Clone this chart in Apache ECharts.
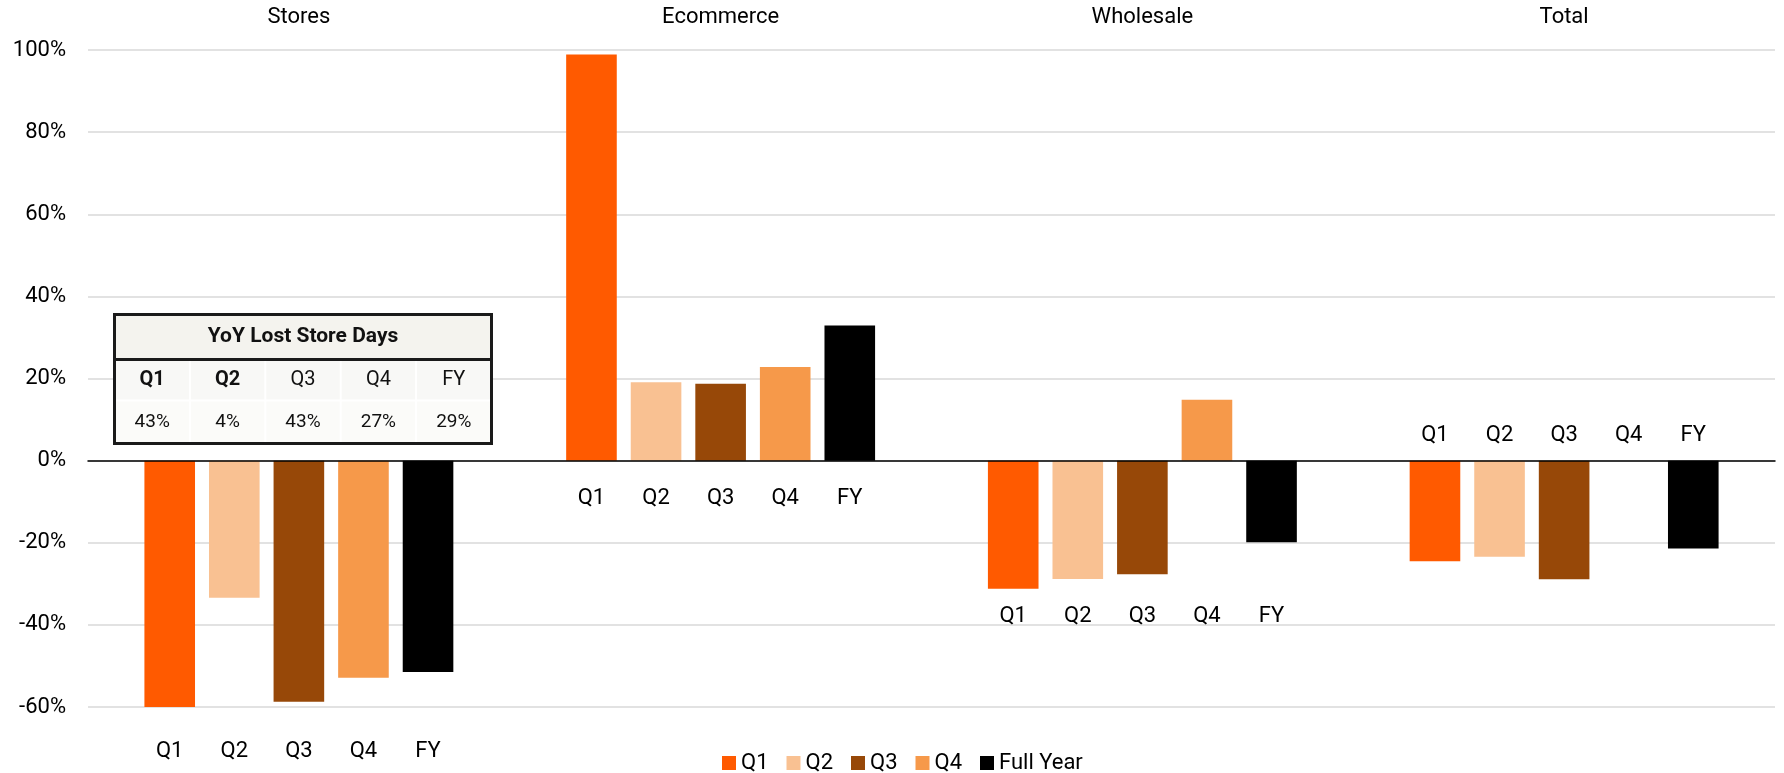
<!DOCTYPE html>
<html>
<head>
<meta charset="utf-8">
<title>Sales growth by channel</title>
<script src="https://cdn.jsdelivr.net/npm/echarts@6/dist/echarts.min.js"></script>
<style>
  html, body { margin: 0; padding: 0; background: #ffffff; }
  #chart { width: 1784px; height: 773px; }
</style>
</head>
<body>
<div id="chart"></div>
<script>
// Channels and periods
const channels = ['Stores', 'Ecommerce', 'Wholesale', 'Total'];
const periodLabels = ['Q1', 'Q2', 'Q3', 'Q4', 'FY'];
const seriesNames = ['Q1', 'Q2', 'Q3', 'Q4', 'Full Year'];

// YoY change (%) per channel, one array per period
const q1Values = [-60.0, 98.9, -31.2, -24.5];
const q2Values = [-33.4, 19.1, -28.8, -23.4];
const q3Values = [-58.7, 18.7, -27.7, -28.9];
const q4Values = [-52.9, 22.8, 14.8, null];
const fyValues = [-51.5, 32.9, -19.9, -21.4];

// Value axis ticks
const yMin = -60;
const yMax = 100;
const yStep = 20;

// Inset table: YoY lost store days
const lostDaysTitle = 'YoY Lost Store Days';
const lostDaysHeaders = ['Q1', 'Q2', 'Q3', 'Q4', 'FY'];
const lostDaysValues = ['43%', '4%', '43%', '27%', '29%'];

// ---- presentation ----
const FONT = 'Roboto, "Liberation Sans", Arial, sans-serif';
const colors = ['#FF5A00', '#F9C192', '#974808', '#F6994A', '#000000'];
// vertical level (in axis units) at which each channel's period names sit
const periodLabelLevel = [-70.8, -9.2, -37.9, 6.2];
const BAR_WIDTH_PCT = 12;     // of category band
const BAR_GAP_PCT = 27.6;     // of bar width

const allValues = [q1Values, q2Values, q3Values, q4Values, fyValues];

const barSeries = allValues.map((vals, i) => ({
  name: seriesNames[i],
  type: 'bar',
  xAxisIndex: 0,
  data: vals,
  barWidth: BAR_WIDTH_PCT + '%',
  barGap: BAR_GAP_PCT + '%',
  itemStyle: { color: colors[i] },
  emphasis: { disabled: true },
  z: 2
}));

// period names under/over each bar, placed at the bar's own x slot
const labelData = [];
channels.forEach((c, g) => {
  periodLabels.forEach((p, k) => {
    labelData.push([g, periodLabelLevel[g], k]);
  });
});

const labelSeries = {
  type: 'custom',
  xAxisIndex: 0,
  silent: true,
  clip: false,
  data: labelData,
  encode: { x: 0, y: 1 },
  renderItem: function (params, api) {
    const g = api.value(0);
    const lvl = api.value(1);
    const k = api.value(2);
    const pt = api.coord([g, lvl]);
    const band = api.size([1, 0])[0];
    const bw = band * BAR_WIDTH_PCT / 100;
    const step = bw * (1 + BAR_GAP_PCT / 100);
    return {
      type: 'text',
      x: pt[0] + (k - 2) * step,
      y: pt[1],
      style: {
        text: periodLabels[k],
        fill: '#000000',
        font: '22px ' + FONT,
        align: 'center',
        verticalAlign: 'middle',
        textAlign: 'center',
        textVerticalAlign: 'middle'
      }
    };
  },
  z: 5
};

// inset table geometry
const T = { left: 112, top: 312, width: 377, height: 129, headH: 45, rowH: 41 };
const colW = T.width / lostDaysHeaders.length;
const TZ = 100;
const tableChildren = [
  { type: 'rect', z: TZ, shape: { x: 0, y: 0, width: T.width, height: T.height }, style: { fill: '#fbfbf9' } },
  { type: 'rect', z: TZ, shape: { x: 0, y: T.headH, width: T.width, height: T.rowH }, style: { fill: '#f8f8f6' } },
  { type: 'rect', z: TZ, shape: { x: 0, y: 0, width: T.width, height: T.headH }, style: { fill: '#f4f3ee' } }
];
for (let i = 1; i < lostDaysHeaders.length; i++) {
  tableChildren.push({
    type: 'line', z: TZ + 1,
    shape: { x1: i * colW, y1: T.headH, x2: i * colW, y2: T.height },
    style: { stroke: '#ffffff', lineWidth: 2 }
  });
}
tableChildren.push({
  type: 'line', z: TZ + 1,
  shape: { x1: 0, y1: T.headH + T.rowH, x2: T.width, y2: T.headH + T.rowH },
  style: { stroke: '#ffffff', lineWidth: 2 }
});
tableChildren.push({
  type: 'text', z: TZ + 2,
  x: T.width / 2,
  y: T.headH / 2,
  style: {
    text: lostDaysTitle, fill: '#111111', font: 'bold 21px ' + FONT,
    align: 'center', verticalAlign: 'middle', textAlign: 'center', textVerticalAlign: 'middle'
  }
});
lostDaysHeaders.forEach((h, i) => {
  tableChildren.push({
    type: 'text', z: TZ + 2,
    x: colW * (i + 0.5),
    y: T.headH + T.rowH / 2,
    style: {
      text: h, fill: '#111111', font: (i < 2 ? 'bold ' : '') + '20px ' + FONT,
      align: 'center', verticalAlign: 'middle', textAlign: 'center', textVerticalAlign: 'middle'
    }
  });
  tableChildren.push({
    type: 'text', z: TZ + 2,
    x: colW * (i + 0.5),
    y: T.headH + T.rowH + (T.height - T.headH - T.rowH) / 2,
    style: {
      text: lostDaysValues[i], fill: '#111111', font: '19px ' + FONT,
      align: 'center', verticalAlign: 'middle', textAlign: 'center', textVerticalAlign: 'middle'
    }
  });
});
tableChildren.push({
  type: 'line', z: TZ + 3,
  shape: { x1: 0, y1: T.headH, x2: T.width, y2: T.headH },
  style: { stroke: '#1a1a1a', lineWidth: 3 }
});
tableChildren.push({
  type: 'rect', z: TZ + 3,
  shape: { x: 0, y: 0, width: T.width, height: T.height },
  style: { fill: null, stroke: '#1a1a1a', lineWidth: 3 }
});

const chart = echarts.init(document.getElementById('chart'), null, { renderer: 'canvas' });

chart.setOption({
  backgroundColor: '#ffffff',
  animation: false,
  textStyle: { fontFamily: FONT },
  grid: { left: 88, right: 9, top: 50, bottom: 66, containLabel: false },
  legend: {
    data: seriesNames,
    left: 717,
    top: 747,
    icon: 'rect',
    itemWidth: 14,
    itemHeight: 14,
    itemGap: 18,
    selectedMode: false,
    textStyle: { fontSize: 22, color: '#000000', fontFamily: FONT }
  },
  xAxis: [
    {
      type: 'category',
      data: channels,
      position: 'bottom',
      axisLine: { onZero: true, lineStyle: { color: '#000000', width: 1.5 } },
      axisTick: { show: false },
      axisLabel: { show: false },
      splitLine: { show: false },
      z: 3
    },
    {
      type: 'category',
      data: channels,
      position: 'top',
      axisLine: { show: false },
      axisTick: { show: false },
      axisLabel: { show: true, margin: 22, fontSize: 22, color: '#000000', fontFamily: FONT },
      splitLine: { show: false }
    }
  ],
  yAxis: {
    type: 'value',
    min: yMin,
    max: yMax,
    interval: yStep,
    axisLine: { show: false },
    axisTick: { show: false },
    axisLabel: {
      margin: 22,
      fontSize: 22,
      color: '#000000',
      fontFamily: FONT,
      formatter: v => v + '%'
    },
    splitLine: { show: true, lineStyle: { color: '#d9d9d9', width: 1.5 } }
  },
  series: barSeries.concat([labelSeries]),
  graphic: [
    {
      type: 'group',
      left: T.left,
      top: T.top,
      z: TZ,
      children: tableChildren
    }
  ]
});
</script>
</body>
</html>
